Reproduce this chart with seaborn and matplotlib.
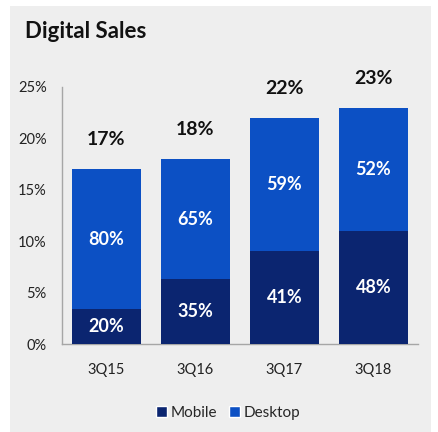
import matplotlib
matplotlib.use("Agg")
import matplotlib.pyplot as plt
from matplotlib.patches import Rectangle, Patch
import seaborn as sns
import pandas as pd

quarters = ["3Q15", "3Q16", "3Q17", "3Q18"]
total_share = [17, 18, 22, 23]          # digital share of sales, %
mobile_mix = [20, 35, 41, 48]           # mobile portion of digital, %
desktop_mix = [80, 65, 59, 52]          # desktop portion of digital, %

mobile_color = "#0B2570"
desktop_color = "#0C50C4"
panel_color = "#EEEEEE"

df = pd.DataFrame({
    "quarter": quarters,
    "total": total_share,
    "mobile": [t * m / 100 for t, m in zip(total_share, mobile_mix)],
})

sns.set_theme(style="white")
plt.rcParams["font.family"] = ["Lato", "DejaVu Sans"]

fig = plt.figure(figsize=(4.39, 4.32), dpi=100)
fig.patch.set_facecolor("white")
fig.patches.append(Rectangle((10 / 439, 0), 421 / 439, 1 - 6 / 432,
                             transform=fig.transFigure, facecolor=panel_color,
                             edgecolor="none", zorder=-10))

ax = fig.add_axes([62 / 439, 1 - 344 / 432, 356 / 439, 257 / 432])
ax.set_facecolor(panel_color)

# full digital bar (desktop colour) with the mobile part drawn over its base
sns.barplot(data=df, x="quarter", y="total", color=desktop_color, width=0.765,
            saturation=1, linewidth=0, ax=ax, zorder=2)
sns.barplot(data=df, x="quarter", y="mobile", color=mobile_color, width=0.765,
            saturation=1, linewidth=0, ax=ax, zorder=3)

ax.set_xlim(-0.5, 3.5)
ax.set_ylim(0, 25)
ax.set_yticks(range(0, 26, 5))
ax.set_yticklabels([f"{v}%" for v in range(0, 26, 5)])
ax.set_xlabel("")
ax.set_ylabel("")
ax.tick_params(axis="both", length=0, labelsize=10.5, colors="#222222")
ax.tick_params(axis="x", pad=14)
ax.tick_params(axis="y", pad=11)

for side in ["top", "right"]:
    ax.spines[side].set_visible(False)
for side in ["left", "bottom"]:
    ax.spines[side].set_color("#A6A6A6")
    ax.spines[side].set_linewidth(1.0)

for i, q in enumerate(quarters):
    tot = total_share[i]
    mob = df["mobile"][i]
    ax.annotate(f"{tot}%", (i, tot), xytext=(0, 15), textcoords="offset points",
                ha="center", va="bottom", fontsize=14, fontweight="bold",
                color="#111111")
    ax.text(i, mob / 2, f"{mobile_mix[i]}%", ha="center", va="center",
            fontsize=13, fontweight="bold", color="white", zorder=5)
    ax.text(i, (mob + tot) / 2, f"{desktop_mix[i]}%", ha="center", va="center",
            fontsize=13, fontweight="bold", color="white", zorder=5)

fig.text(25 / 439, 1 - 32 / 432, "Digital Sales", ha="left", va="center",
         fontsize=16, fontweight="bold", color="#111111")

handles = [Patch(facecolor=mobile_color, label="Mobile"),
           Patch(facecolor=desktop_color, label="Desktop")]
fig.legend(handles=handles, loc="center", bbox_to_anchor=(228 / 439, 1 - 413 / 432),
           ncol=2, frameon=False, fontsize=11, handlelength=0.7, handleheight=0.7,
           handletextpad=0.25, columnspacing=0.8, borderpad=0)

fig.savefig("out.png", dpi=100, facecolor=fig.get_facecolor())
